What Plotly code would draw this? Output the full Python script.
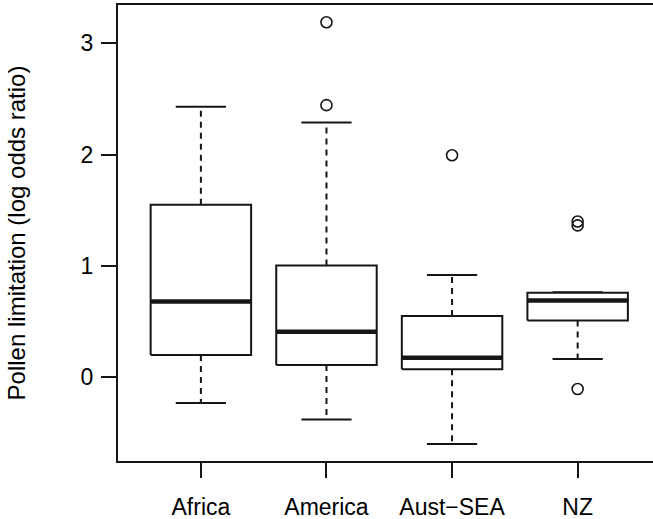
import plotly.graph_objects as go

# ---- data ----
categories = ["Africa", "America", "Aust\u2212SEA", "NZ"]
lower_whisker = [-0.23, -0.38, -0.60, 0.165]
q1 = [0.20, 0.11, 0.072, 0.51]
median = [0.68, 0.41, 0.175, 0.69]
q3 = [1.55, 1.005, 0.55, 0.76]
upper_whisker = [2.43, 2.29, 0.92, 0.765]
outliers = [[], [3.19, 2.445], [1.995], [1.40, 1.365, -0.105]]
y_ticks = [0, 1, 2, 3]
y_title = "Pollen limitation (log odds ratio)"

INK = "#161616"
FONT = "Liberation Sans, Arial, Helvetica, sans-serif"
BOX_HALF = 0.4
CAP_HALF = 0.2

fig = go.Figure()
for i, cat in enumerate(categories):
    x = i + 1
    # whiskers (dashed)
    fig.add_trace(go.Scatter(
        x=[x, x, None, x, x],
        y=[q3[i], upper_whisker[i], None, q1[i], lower_whisker[i]],
        mode="lines", line=dict(color=INK, width=2, dash="6px,5px"),
        hoverinfo="skip", showlegend=False))
    # caps
    fig.add_trace(go.Scatter(
        x=[x - CAP_HALF, x + CAP_HALF, None, x - CAP_HALF, x + CAP_HALF],
        y=[upper_whisker[i], upper_whisker[i], None, lower_whisker[i], lower_whisker[i]],
        mode="lines", line=dict(color=INK, width=2),
        hoverinfo="skip", showlegend=False))
    # box
    fig.add_trace(go.Scatter(
        x=[x - BOX_HALF, x + BOX_HALF, x + BOX_HALF, x - BOX_HALF, x - BOX_HALF],
        y=[q1[i], q1[i], q3[i], q3[i], q1[i]],
        mode="lines", fill="toself", fillcolor="white",
        line=dict(color=INK, width=2),
        hoverinfo="skip", showlegend=False))
    # median
    fig.add_trace(go.Scatter(
        x=[x - BOX_HALF, x + BOX_HALF], y=[median[i], median[i]],
        mode="lines", line=dict(color=INK, width=4.5),
        hoverinfo="skip", showlegend=False))
    # outliers
    if outliers[i]:
        fig.add_trace(go.Scatter(
            x=[x] * len(outliers[i]), y=outliers[i], mode="markers",
            marker=dict(symbol="circle-open", size=11, color=INK,
                        line=dict(width=1.6, color=INK)),
            hoverinfo="skip", showlegend=False))

fig.update_layout(
    width=653, height=519,
    margin=dict(l=118, r=0, t=5, b=58),
    paper_bgcolor="white", plot_bgcolor="white",
    font=dict(family=FONT, size=23, color="black"),
    showlegend=False,
    xaxis=dict(
        range=[0.34, 4.60],
        tickvals=list(range(1, len(categories) + 1)), ticktext=categories,
        ticks="outside", ticklen=15, tickwidth=2, tickcolor=INK,
        ticklabelstandoff=9,
        showline=True, linewidth=2, linecolor=INK, mirror=True,
        showgrid=False, zeroline=False,
    ),
    yaxis=dict(
        range=[-0.752, 3.345], tickvals=y_ticks,
        ticks="outside", ticklen=15, tickwidth=2, tickcolor=INK,
        ticklabelstandoff=3,
        showline=True, linewidth=2, linecolor=INK,
        showgrid=False, zeroline=False,
        title=dict(text=y_title, font=dict(size=24), standoff=48),
    ),
)

fig.write_html("out.html")
